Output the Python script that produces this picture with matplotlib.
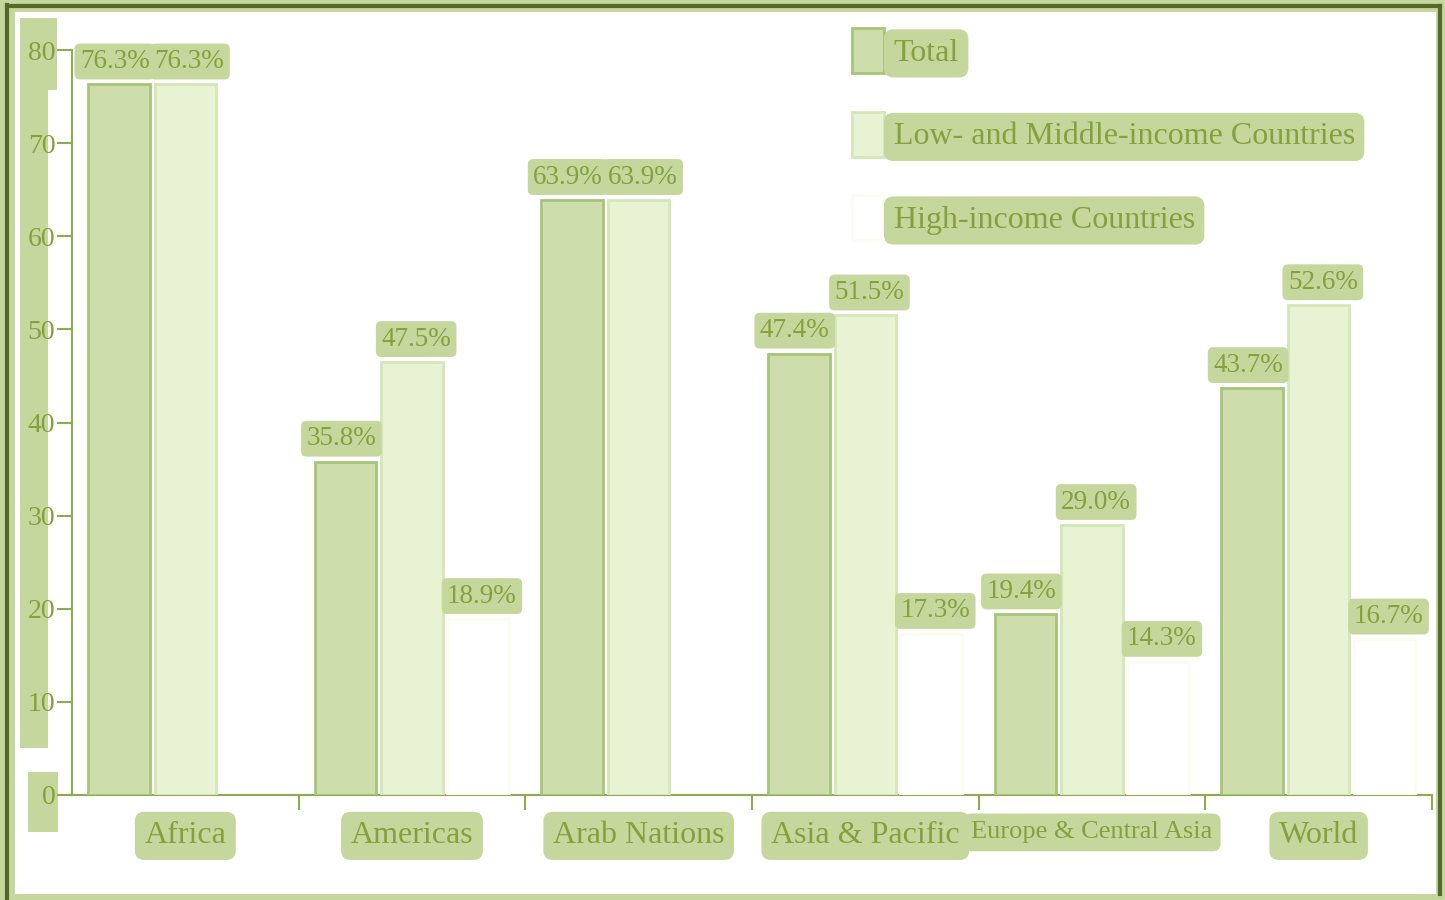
import matplotlib.pyplot as plt
import matplotlib.patches as mpatches
import numpy as np

plt.rcParams["font.family"] = ["Liberation Serif", "DejaVu Serif"]

regions = ["Africa", "Americas", "Arab Nations", "Asia & Pacific",
           "Europe & Central Asia", "World"]
total = [76.3, 35.8, 63.9, 47.4, 19.4, 43.7]
low_mid = [76.3, 46.5, 63.9, 51.5, 29.0, 52.6]
high = [np.nan, 18.9, np.nan, 17.3, 14.3, 16.7]
total_lbl = ["76.3%", "35.8%", "63.9%", "47.4%", "19.4%", "43.7%"]
low_lbl = ["76.3%", "47.5%", "63.9%", "51.5%", "29.0%", "52.6%"]
high_lbl = ["", "18.9%", "", "17.3%", "14.3%", "16.7%"]
yticks = [0, 10, 20, 30, 40, 50, 60, 70, 80]

txt_c = "#84a13d"
blob = "#c5d79d"
axis_c = "#8fab4f"

W, H = 1445, 900
fig = plt.figure(figsize=(W / 100, H / 100), dpi=100)
fig.patch.set_facecolor(blob)

# frame: dark line and white inner area
fig.patches.append(mpatches.Rectangle((15 / W, 6 / H), 1421 / W, 882 / H,
                                      transform=fig.transFigure, fc="white",
                                      ec="none", zorder=-2))
for xs, ys in [([7 / W, 7 / W], [0, 1 - 5 / H]),
               ([7 / W, 1440 / W], [1 - 6 / H, 1 - 6 / H]),
               ([1440 / W, 1440 / W], [6 / H, 1 - 6 / H])]:
    fig.add_artist(plt.Line2D(xs, ys, transform=fig.transFigure,
                              color="#56682a", lw=3, zorder=-1))
# highlight behind y tick labels
for x0, y0, w, h in [(20, 18, 28, 730), (20, 18, 37, 72), (28, 772, 30, 60)]:
    fig.patches.append(mpatches.Rectangle((x0 / W, 1 - (y0 + h) / H), w / W, h / H,
                                          transform=fig.transFigure, fc=blob,
                                          ec="none", zorder=-1))

ax = fig.add_axes([72 / W, 105 / H, 1360 / W, 745 / H])
ax.set_facecolor("none")
ax.set_zorder(2)

x = np.arange(len(regions))
bw = 0.272
b1 = ax.bar(x - 0.293, total, bw, color="#cddeac", edgecolor="#a8c479",
            lw=2, zorder=3, label="Total")
b2 = ax.bar(x, low_mid, bw, color="#e8f3d3", edgecolor="#d5e6b8",
            lw=2, zorder=3, label="Low- and Middle-income Countries")
b3 = ax.bar(x + 0.29, high, bw, color="white", edgecolor="#fcfdf0",
            lw=2, zorder=3, label="High-income Countries")

box = dict(boxstyle="round,pad=0.2", fc=blob, ec="none")
for bars, labels, dx in [(b1, total_lbl, -3), (b2, low_lbl, 3), (b3, high_lbl, 3)]:
    for rect, lab in zip(bars, labels):
        if not lab:
            continue
        ax.annotate(lab, (rect.get_x() + rect.get_width() / 2, rect.get_height()),
                    xytext=(dx, 16.5), textcoords="offset points",
                    ha="center", va="center", fontsize=19.5, color=txt_c,
                    bbox=box, zorder=5)

ax.set_xlim(-0.5, 5.5)
ax.set_ylim(0, 80)
ax.set_yticks(yticks)
ax.set_xticks(x)
ax.set_xticklabels(regions)
ax.set_xticks(x + 0.5, minor=True)
for lab in ax.get_xticklabels():
    lab.set_bbox(dict(boxstyle="round,pad=0.3", fc=blob, ec="none"))
    if lab.get_text() == "Europe & Central Asia":
        lab.set_fontsize(19)
    else:
        lab.set_fontsize(23)
ax.tick_params(axis="x", which="major", length=0, pad=19, colors=txt_c)
ax.tick_params(axis="x", which="minor", length=11, width=1.5,
               direction="out", color=axis_c)
ax.tick_params(axis="y", length=11, width=1.5, color=axis_c,
               labelcolor=txt_c, labelsize=20, pad=1)

for s in ["top", "right"]:
    ax.spines[s].set_visible(False)
for s in ["left", "bottom"]:
    ax.spines[s].set_color(axis_c)
    ax.spines[s].set_linewidth(1.5)

leg = ax.legend(loc="upper left", bbox_to_anchor=(852 / W, 1 - 28 / H),
                bbox_transform=fig.transFigure, frameon=False, fontsize=23,
                borderpad=0, borderaxespad=0, handlelength=1.0,
                handleheight=1.8, handletextpad=0.3, labelspacing=1.2)
for t in leg.get_texts():
    t.set_color(txt_c)
    t.set_bbox(dict(boxstyle="round,pad=0.3", fc=blob, ec="none"))

fig.savefig("out.png", dpi=100, facecolor=fig.get_facecolor())
